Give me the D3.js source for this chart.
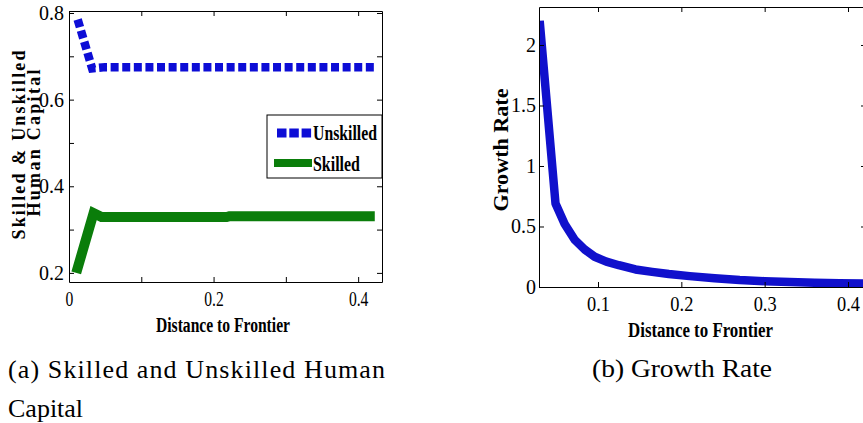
<!DOCTYPE html>
<html>
<head>
<meta charset="utf-8">
<script src="https://cdn.jsdelivr.net/npm/d3@7"></script>
<style>
body { margin: 0; background: #fff; }
svg { display: block; }
</style>
</head>
<body>
<svg id="fig" width="863" height="423"></svg>
<script>
// panel (a): skilled & unskilled human capital
var unskilledX = [0.012, 0.032, 0.05, 0.423];
var unskilledY = [0.785, 0.672, 0.675, 0.675];
var skilledX = [0.010, 0.034, 0.045, 0.218, 0.222, 0.423];
var skilledY = [0.200, 0.338, 0.329, 0.329, 0.331, 0.331];
var xTicksA = [0, 0.1, 0.2, 0.3, 0.4];
var xLabelsA = ["0", "", "0.2", "", "0.4"];
var yTicksA = [0.2, 0.3, 0.4, 0.5, 0.6, 0.7, 0.8];
var yLabelsA = ["0.2", "", "0.4", "", "0.6", "", "0.8"];
var legendA = ["Unskilled", "Skilled"];

// panel (b): growth rate
var growthX = [0.030, 0.049, 0.060, 0.072, 0.084, 0.096, 0.110, 0.125, 0.145, 0.165, 0.185, 0.21, 0.24, 0.27, 0.30, 0.33, 0.36, 0.39, 0.422];
var growthY = [2.20, 0.69, 0.52, 0.39, 0.31, 0.25, 0.21, 0.18, 0.145, 0.125, 0.107, 0.09, 0.072, 0.057, 0.048, 0.042, 0.036, 0.032, 0.028];
var xTicksB = [0.1, 0.2, 0.3, 0.4];
var xLabelsB = ["0.1", "0.2", "0.3", "0.4"];
var yTicksB = [0, 0.5, 1, 1.5, 2];
var yLabelsB = ["0", "0.5", "1", "1.5", "2"];

var serif = '"Liberation Serif", "Times New Roman", serif';
var svg = d3.select("#fig");

// squash text horizontally (the original figure was resized unevenly)
function squeeze(sel, k) {
    sel.each(function() {
        var t = d3.select(this);
        var x = +t.attr("x") || 0;
        t.attr("x", x / k).attr("transform", "scale(" + k + ",1)");
    });
}

function styleAxis(g, size) {
    g.attr("font-family", serif).attr("font-size", size);
    g.selectAll("path, line").attr("stroke", "#000").attr("stroke-width", 1);
    g.selectAll("text").attr("fill", "#000");
}

// MATLAB style box: ticks inward on all four sides
function boxAxes(g, x, y, xt, xl, yt, yl, kx, ky, padY) {
    var xr = x.range(), yr = y.range();
    var bottom = g.append("g")
        .attr("transform", "translate(0," + yr[0] + ")")
        .call(d3.axisBottom(x).tickValues(xt).tickSize(-5).tickSizeOuter(0).tickPadding(10)
            .tickFormat(function(d, i) { return xl[i]; }));
    styleAxis(bottom, 20);
    squeeze(bottom.selectAll("text"), kx);

    var left = g.append("g")
        .attr("transform", "translate(" + xr[0] + ",0)")
        .call(d3.axisLeft(y).tickValues(yt).tickSize(-5).tickSizeOuter(0).tickPadding(padY)
            .tickFormat(function(d, i) { return yl[i]; }));
    styleAxis(left, 20);
    squeeze(left.selectAll("text"), ky);

    var top = g.append("g")
        .attr("transform", "translate(0," + yr[1] + ")")
        .call(d3.axisTop(x).tickValues(xt).tickSize(-5).tickSizeOuter(0).tickFormat(""));
    styleAxis(top, 10);

    var right = g.append("g")
        .attr("transform", "translate(" + xr[1] + ",0)")
        .call(d3.axisRight(y).tickValues(yt).tickSize(-5).tickSizeOuter(0).tickFormat(""));
    styleAxis(right, 10);
}

function toPoints(xs, ys) {
    return xs.map(function(d, i) { return [d, ys[i]]; });
}

// ---------- (a) ----------
var xA = d3.scaleLinear().domain([0, 0.433]).range([69, 382]);
var yA = d3.scaleLinear().domain([0.179, 0.8046]).range([282, 11]);
var lineA = d3.line().x(function(d) { return xA(d[0]); }).y(function(d) { return yA(d[1]); });

var gA = svg.append("g");

gA.append("path")
    .datum(toPoints(skilledX, skilledY))
    .attr("d", lineA)
    .attr("fill", "none")
    .attr("stroke", "#0a7d0a")
    .attr("stroke-width", 10)
    .attr("stroke-linejoin", "miter");

gA.append("path")
    .datum(toPoints(unskilledX, unskilledY))
    .attr("d", lineA)
    .attr("fill", "none")
    .attr("stroke", "#0d0dd6")
    .attr("stroke-width", 8.5)
    .attr("stroke-dasharray", "8,3.6");

boxAxes(gA, xA, yA, xTicksA, xLabelsA, yTicksA, yLabelsA, 0.78, 1, 5);

gA.append("text")
    .attr("x", 156).attr("y", 332)
    .attr("font-family", serif).attr("font-size", 20).attr("font-weight", "bold")
    .attr("textLength", 134).attr("lengthAdjust", "spacingAndGlyphs")
    .text("Distance to Frontier");

gA.append("text")
    .attr("transform", "translate(24.5,145) rotate(-90)")
    .attr("text-anchor", "middle")
    .attr("font-family", serif).attr("font-size", 18).attr("font-weight", "bold")
    .attr("textLength", 189).attr("lengthAdjust", "spacing")
    .text("Skilled & Unskilled");

gA.append("text")
    .attr("transform", "translate(40,143) rotate(-90)")
    .attr("text-anchor", "middle")
    .attr("font-family", serif).attr("font-size", 18).attr("font-weight", "bold")
    .attr("textLength", 147).attr("lengthAdjust", "spacing")
    .text("Human Capital");

// legend
var leg = gA.append("g").attr("transform", "translate(267,115)");
leg.append("rect")
    .attr("width", 115).attr("height", 63)
    .attr("fill", "#fff").attr("stroke", "#000").attr("stroke-width", 1);
leg.append("line")
    .attr("x1", 10).attr("x2", 45).attr("y1", 18).attr("y2", 18)
    .attr("stroke", "#0d0dd6").attr("stroke-width", 9).attr("stroke-dasharray", "9.5,2.8");
leg.append("line")
    .attr("x1", 7).attr("x2", 45).attr("y1", 48).attr("y2", 48)
    .attr("stroke", "#0a7d0a").attr("stroke-width", 8);
leg.selectAll("text.lab")
    .data(legendA)
    .enter().append("text")
    .attr("class", "lab")
    .attr("x", 46)
    .attr("y", function(d, i) { return 25 + i * 31; })
    .attr("font-family", serif).attr("font-size", 21).attr("font-weight", "bold")
    .attr("textLength", function(d) { return d === "Unskilled" ? 64 : 47; })
    .attr("lengthAdjust", "spacingAndGlyphs")
    .text(function(d) { return d; });

// ---------- (b) ----------
var xB = d3.scaleLinear().domain([0.0292, 0.4216]).range([539, 866]);
var yB = d3.scaleLinear().domain([0, 2.314]).range([287, 7]);
var lineB = d3.line().x(function(d) { return xB(d[0]); }).y(function(d) { return yB(d[1]); });

var gB = svg.append("g");
gB.append("clipPath").attr("id", "clipB")
    .append("rect").attr("x", 539).attr("y", 7).attr("width", 327).attr("height", 280);

gB.append("path")
    .datum(toPoints(growthX, growthY))
    .attr("clip-path", "url(#clipB)")
    .attr("d", lineB)
    .attr("fill", "none")
    .attr("stroke", "#1010cc")
    .attr("stroke-width", 8.5)
    .attr("stroke-linejoin", "round");

boxAxes(gB, xB, yB, xTicksB, xLabelsB, yTicksB, yLabelsB, 0.92, 1, 3);

gB.append("text")
    .attr("x", 628).attr("y", 337)
    .attr("font-family", serif).attr("font-size", 20).attr("font-weight", "bold")
    .attr("textLength", 145).attr("lengthAdjust", "spacingAndGlyphs")
    .text("Distance to Frontier");

gB.append("text")
    .attr("transform", "translate(508,150) rotate(-90)")
    .attr("text-anchor", "middle")
    .attr("font-family", serif).attr("font-size", 20).attr("font-weight", "bold")
    .attr("textLength", 123).attr("lengthAdjust", "spacingAndGlyphs")
    .text("Growth Rate");

// ---------- captions ----------
svg.append("text")
    .attr("x", 8).attr("y", 378)
    .attr("font-family", serif).attr("font-size", 26)
    .attr("textLength", 377).attr("lengthAdjust", "spacing")
    .text("(a) Skilled and Unskilled Human");
svg.append("text")
    .attr("x", 8).attr("y", 417)
    .attr("font-family", serif).attr("font-size", 26)
    .text("Capital");
svg.append("text")
    .attr("x", 592).attr("y", 377)
    .attr("font-family", serif).attr("font-size", 26)
    .attr("textLength", 180).attr("lengthAdjust", "spacingAndGlyphs")
    .text("(b) Growth Rate");
</script>
</body>
</html>
